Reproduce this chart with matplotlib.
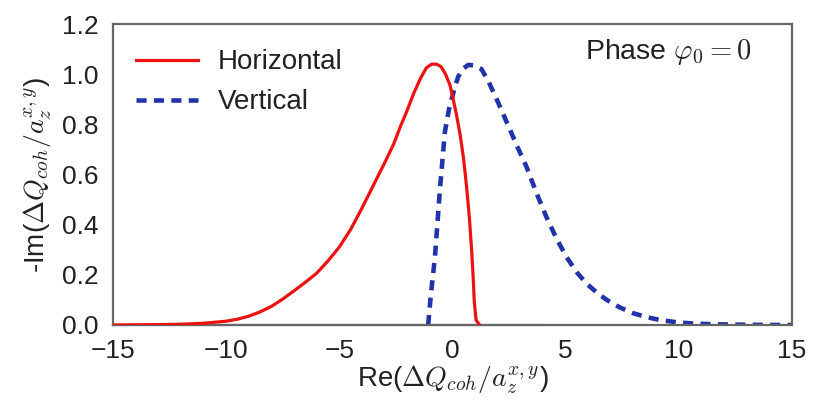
import numpy as np
import matplotlib
matplotlib.use("Agg")
import matplotlib.pyplot as plt

plt.rcParams['font.family'] = ['Liberation Sans', 'DejaVu Sans']
plt.rcParams['mathtext.fontset'] = 'cm'

# Horizontal (red, solid)
h_x = [-15, -14, -13, -12, -11, -10, -9.5, -9, -8.5, -8, -7.5, -7, -6.5, -6, -5.5, -5, -4.5, -4,
       -3.5, -3, -2.6, -2.3, -2.0, -1.7, -1.4, -1.15, -0.92, -0.7, -0.5, -0.3, -0.1, 0.05, 0.2,
       0.35, 0.5, 0.63, 0.75, 0.85, 0.92, 0.97, 1.05, 1.2]
h_y = [0.0, 0.0007, 0.0015, 0.003, 0.007, 0.015, 0.023, 0.035, 0.052, 0.074, 0.103, 0.136, 0.17,
       0.206, 0.255, 0.31, 0.38, 0.465, 0.555, 0.645, 0.72, 0.79, 0.855, 0.925, 0.985, 1.025, 1.04,
       1.04, 1.03, 1.00, 0.955, 0.895, 0.83, 0.755, 0.66, 0.55, 0.43, 0.30, 0.19, 0.09, 0.02, 0.0]

# Vertical (blue, dashed)
v_x = [-1.07, -0.95, -0.77, -0.55, -0.33, -0.15, -0.03, 0.1, 0.26, 0.45, 0.7, 0.95, 1.29, 1.6,
       1.96, 2.25, 2.54, 2.9, 3.28, 3.7, 4.16, 4.6, 5.05, 5.5, 5.93, 6.4, 6.82, 7.4, 7.99, 8.6,
       9.17, 9.9, 10.6, 11.5, 12.5, 13.5, 15.0]
v_y = [0.0, 0.12, 0.27, 0.54, 0.77, 0.86, 0.90, 0.945, 0.99, 1.02, 1.037, 1.035, 1.02, 0.97,
       0.90, 0.84, 0.78, 0.705, 0.63, 0.53, 0.43, 0.345, 0.27, 0.21, 0.165, 0.128, 0.10, 0.07, 0.047,
       0.031, 0.02, 0.011, 0.006, 0.003, 0.0015, 0.0006, 0.0]

baseline_x = [-15, 4]
baseline_y = [0, 0]

xticks = [-15, -10, -5, 0, 5, 10, 15]
yticks = [0.0, 0.2, 0.4, 0.6, 0.8, 1.0, 1.2]

fig = plt.figure(figsize=(8.18, 4.07), dpi=100)
ax = fig.add_axes([0.138, 0.2015, 0.83, 0.7395])

ax.plot(baseline_x, baseline_y, color='black', lw=1.5, zorder=1, clip_on=False)
ax.plot(h_x, h_y, color='#ee1111', lw=2.3, label='Horizontal', zorder=3)
ax.plot(v_x, v_y, color='#2233aa', lw=3.3, ls=(0, (2.2, 1.6)), label='Vertical', zorder=2)

ax.set_xlim(-15, 15)
ax.set_ylim(0, 1.2)
ax.set_xticks(xticks)
ax.set_yticks(yticks)
ax.set_xticklabels([f"{t}".replace('-', '\u2212') for t in xticks])
ax.set_yticklabels([f"{t:.1f}" for t in yticks])
ax.tick_params(length=0, labelsize=19, colors='#222222', pad=10)
for s in ax.spines.values():
    s.set_color('#666666')
    s.set_linewidth(1.6)

ax.set_xlabel(r'Re($\Delta Q_{coh}/a_z^{x,y}$)', fontsize=20, labelpad=1, color='#222222')
ax.set_ylabel(r'-Im($\Delta Q_{coh}/a_z^{x,y}$)', fontsize=20, labelpad=6, color='#222222')

ax.text(0.941, 0.907, r'Phase $\varphi_0=0$', transform=ax.transAxes, ha='right', va='center',
        fontsize=20.5, color='#222222')

leg = ax.legend(loc='upper left', frameon=False, fontsize=20, handlelength=2.2, handletextpad=0.72,
                borderaxespad=0.3, labelspacing=0.5, bbox_to_anchor=(0.006, 0.98))
for t in leg.get_texts():
    t.set_color('#222222')

fig.savefig('out.png', dpi=100)
